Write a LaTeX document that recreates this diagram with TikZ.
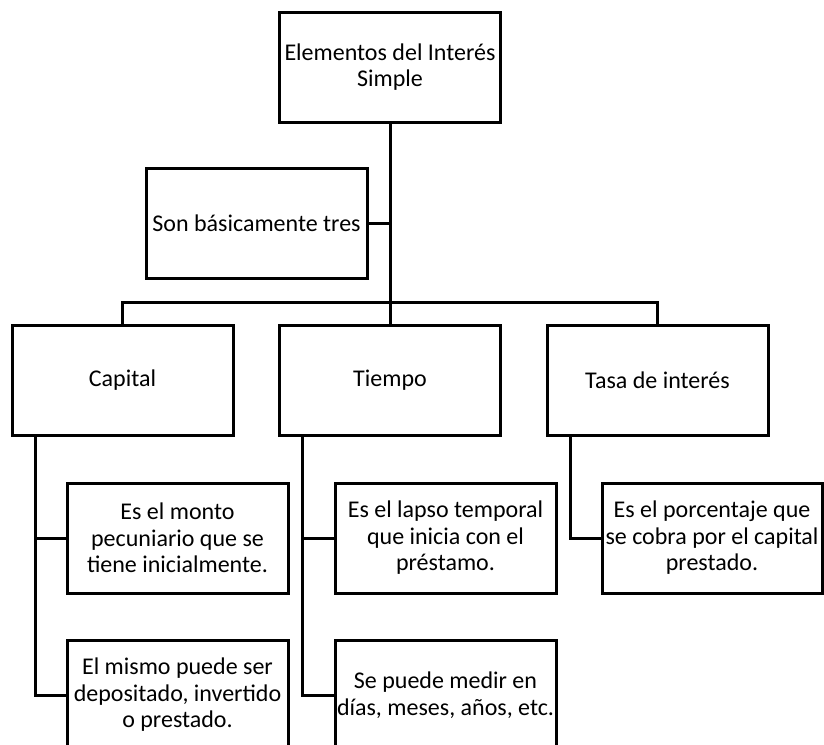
\documentclass[tikz,border=0pt]{standalone}
\usepackage{fontspec}
\setmainfont{Carlito}
\begin{document}
\begin{tikzpicture}[x=1pt,y=-1pt,
  box/.style={draw=black,line width=3pt,minimum width=221pt,minimum height=110pt,inner sep=0pt,outer sep=0pt,align=center,font=\fontsize{24}{26.5}\selectfont},
  conn/.style={draw=black,line width=3pt}]
\useasboundingbox (0,0) rectangle (824,744);
\clip (0,0) rectangle (824,744);
\node[box] (root) at (390,67) {Elementos del Interés\\Simple};
\node[box] (son) at (256.5,223.5) {Son básicamente tres};
\node[box] (capital) at (122.5,380.5) {Capital};
\node[box] (tiempo) at (390,380.5) {Tiempo};
\node[box] (tasa) at (657.5,380.5) {Tasa de interés};
\node[box] (c1) at (177.5,538) {Es el monto\\pecuniario que se\\tiene inicialmente.};
\node[box] (c2) at (177.5,695) {El mismo puede ser\\depositado, invertido\\o prestado.};
\node[box] (t1) at (445.5,538) {Es el lapso temporal\\que inicia con el\\préstamo.};
\node[box] (t2) at (445.5,695) {Se puede medir en\\días, meses, años, etc.};
\node[box,minimum width=220pt] (r1) at (712,538) {Es el porcentaje que\\se cobra por el capital\\prestado.};
\coordinate (j) at (390,302);
\coordinate (cs) at (35,436);
\coordinate (ts) at (302,436);
\coordinate (rs) at (570,436);
\draw[conn] (root.south) -- (tiempo.north);
\draw[conn] (son.east) -- (son.east -| root.south);
\draw[conn] (capital.north) |- (j) -| (tasa.north);
\draw[conn] (cs) |- (c2.west);
\draw[conn] (c1.west) -- (c1.west -| cs);
\draw[conn] (ts) |- (t2.west);
\draw[conn] (t1.west) -- (t1.west -| ts);
\draw[conn] (rs) |- (r1.west);
\end{tikzpicture}
\end{document}
